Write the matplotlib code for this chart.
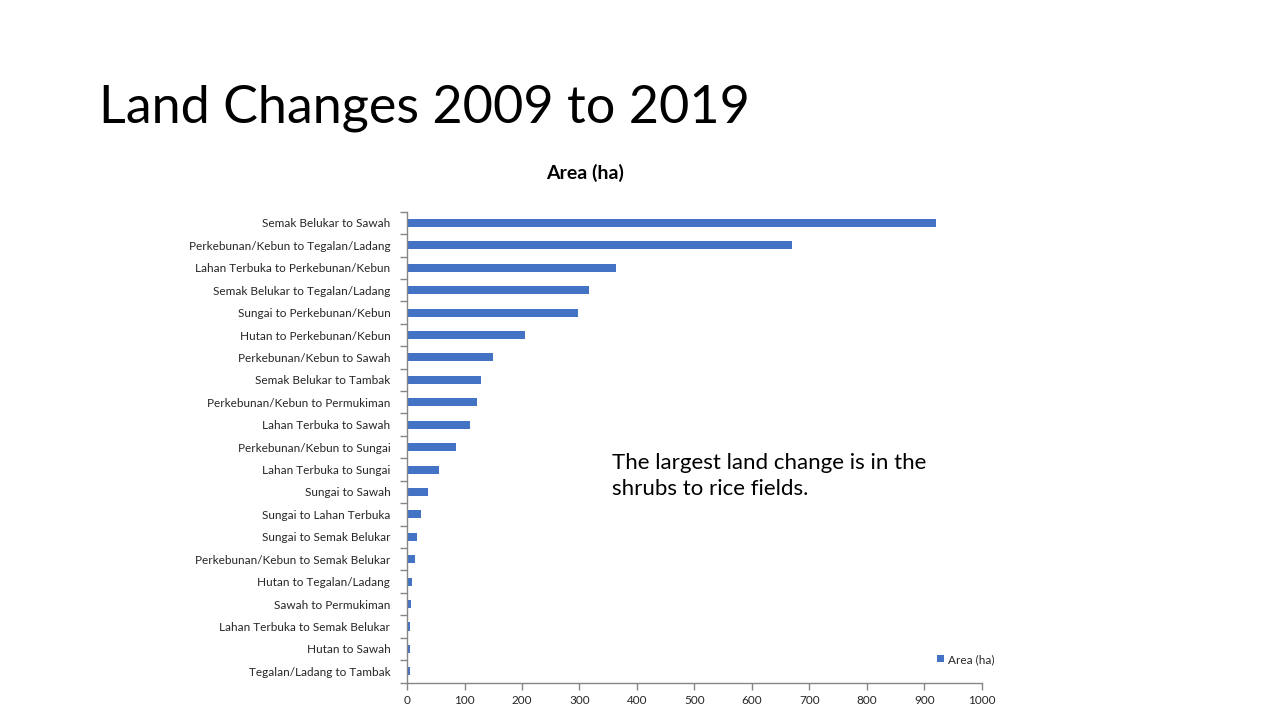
import matplotlib
matplotlib.use("Agg")
import matplotlib.pyplot as plt
import numpy as np

categories = [
    "Semak Belukar to Sawah",
    "Perkebunan/Kebun to Tegalan/Ladang",
    "Lahan Terbuka to Perkebunan/Kebun",
    "Semak Belukar to Tegalan/Ladang",
    "Sungai to Perkebunan/Kebun",
    "Hutan to Perkebunan/Kebun",
    "Perkebunan/Kebun to Sawah",
    "Semak Belukar to Tambak",
    "Perkebunan/Kebun to Permukiman",
    "Lahan Terbuka to Sawah",
    "Perkebunan/Kebun to Sungai",
    "Lahan Terbuka to Sungai",
    "Sungai to Sawah",
    "Sungai to Lahan Terbuka",
    "Sungai to Semak Belukar",
    "Perkebunan/Kebun to Semak Belukar",
    "Hutan to Tegalan/Ladang",
    "Sawah to Permukiman",
    "Lahan Terbuka to Semak Belukar",
    "Hutan to Sawah",
    "Tegalan/Ladang to Tambak",
]
area_ha = [920, 670, 363, 317, 298, 206, 150, 128, 121, 110, 86,
           55, 36, 25, 17, 14, 9, 7, 5, 5, 5]
x_ticks = [0, 100, 200, 300, 400, 500, 600, 700, 800, 900, 1000]
series_name = "Area (ha)"

plt.rcParams['font.family'] = ['Lato', 'DejaVu Sans']

fig = plt.figure(figsize=(12.8, 7.2), dpi=100)
fig.patch.set_facecolor("white")

ax = fig.add_axes([0.318, 0.052, 0.449, 0.654])
n = len(categories)
pos = np.arange(n)[::-1]
ax.barh(pos, area_ha, height=0.36, color="#4472C4", label=series_name)

ax.set_xlim(0, 1000)
ax.set_ylim(-0.5, n - 0.5)
ax.set_xticks(x_ticks)
ax.set_xticklabels([str(t) for t in x_ticks], fontsize=8.5, color="#262626")
ax.set_yticks(pos)
ax.set_yticklabels(categories, fontsize=8.5, color="#262626")
ax.set_yticks(np.arange(-0.5, n, 1.0), minor=True)
ax.tick_params(axis="y", which="major", length=0, pad=12)
ax.tick_params(axis="y", which="minor", length=5, color="#868686", width=1)
ax.tick_params(axis="x", which="major", length=5, color="#868686", width=1, pad=4)

for s in ["top", "right"]:
    ax.spines[s].set_visible(False)
for s in ["left", "bottom"]:
    ax.spines[s].set_color("#868686")
    ax.spines[s].set_linewidth(1)

leg = ax.legend(loc="lower right", bbox_to_anchor=(1.04, 0.015), frameon=False,
                fontsize=8.5, handlelength=0.6, handleheight=0.6, handletextpad=0.3,
                labelcolor="#262626")

fig.text(99 / 1280, 1 - 108 / 720, "Land Changes 2009 to 2019", fontsize=37.5,
         fontweight="normal", va="center", ha="left", color="black")
fig.text(585 / 1280, 1 - 173 / 720, "Area (ha)", fontsize=14, fontweight="bold",
         va="center", ha="center", color="black")
fig.text(612 / 1280, 1 - 453 / 720, "The largest land change is in the\nshrubs to rice fields.",
         fontsize=16, va="top", ha="left", color="black", linespacing=1.4)

fig.savefig("out.png", dpi=100, facecolor="white")
